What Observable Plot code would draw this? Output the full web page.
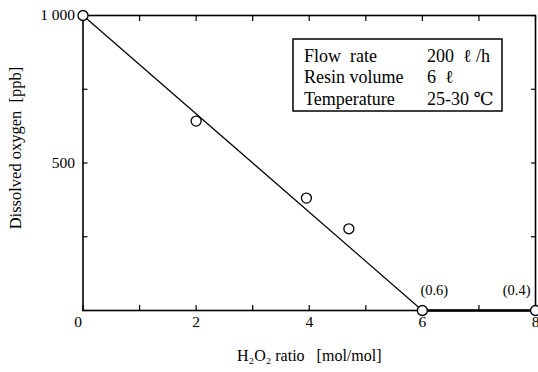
<!DOCTYPE html>
<html>
<head>
<meta charset="utf-8">
<script src="https://cdn.jsdelivr.net/npm/d3@7"></script>
<script src="https://cdn.jsdelivr.net/npm/@observablehq/plot@0.6"></script>
<style>
  html, body { margin: 0; padding: 0; background: #fff; }
</style>
</head>
<body>
<div id="wrap"></div>
<script>
// Measured data
const ratio  = [0, 2, 3.95, 4.7, 6, 8];
const oxygen = [1000, 642, 381, 277, 0, 0];
// Fitted line
const lineRatio  = [0, 6, 8];
const lineOxygen = [1000, 0, 0];
// Annotations
const noteRatio  = [6, 8];
const noteOxygen = [0, 0];
const noteText   = ["(0.6)", "(0.4)"];
// Ticks
const xTicks = [0, 1, 2, 3, 4, 5, 6, 7, 8];
const yTicks = [0, 250, 500, 750, 1000];
const xTickLabels = [2, 4, 6, 8];
const yTickLabels = [500, 1000];
// Legend text
const legendKeys = ["Flow\u00a0\u00a0rate", "Resin volume", "Temperature"];
const legendVals = ["200\u00a0\u00a0\u2113 /h", "6\u00a0\u00a0\u2113", "25-30 \u2103"];
const xTitle = "H\u2082O\u2082 ratio\u00a0\u00a0\u00a0[mol/mol]";
const yTitle = "Dissolved oxygen\u00a0\u00a0[ppb]";

const points = ratio.map((r, i) => ({r, o: oxygen[i]}));
const fit = lineRatio.map((r, i) => ({r, o: lineOxygen[i]}));
const notes = noteRatio.map((r, i) => ({r, o: noteOxygen[i], t: noteText[i]}));

const FONT = "Liberation Serif, DejaVu Serif, serif";
const T = 5;
const chart = Plot.plot({
  width: 538,
  height: 372,
  marginLeft: 82.5,
  marginRight: 3,
  marginTop: 15,
  marginBottom: 62,
  style: {fontFamily: FONT, fontSize: "15px", color: "#000", background: "#fff"},
  x: {domain: [0, 8], label: null},
  y: {domain: [0, 1000], label: null},
  marks: [
    // inward ticks on all four sides
    Plot.axisX(xTicks, {anchor: "bottom", tickSize: T, dy: -T, text: null, label: null, strokeWidth: 1.2}),
    Plot.axisX(xTicks, {anchor: "top", tickSize: T, dy: T, text: null, label: null, strokeWidth: 1.2}),
    Plot.axisY(yTicks, {anchor: "left", tickSize: T, dx: T, text: null, label: null, strokeWidth: 1.2}),
    Plot.axisY(yTicks, {anchor: "right", tickSize: T, dx: -T, text: null, label: null, strokeWidth: 1.2}),
    // tick labels
    Plot.axisX(xTickLabels, {anchor: "bottom", tickSize: 0, tickPadding: 5, label: null, fontSize: 15.5}),
    Plot.axisY(yTickLabels, {anchor: "left", tickSize: 0, tickPadding: 8, label: null, fontSize: 15.5,
      tickFormat: d => d === 1000 ? "1 000" : String(d)}),
    Plot.text([0], {x: 0, y: 0, text: () => "0", dx: -5, dy: 12, fontSize: 15.5}),
    // axis titles
    Plot.text([xTitle], {frameAnchor: "bottom", dy: 45, textAnchor: "middle", lineAnchor: "middle", fontSize: 16}),
    Plot.text([yTitle], {frameAnchor: "left", dx: -67, dy: -15, textAnchor: "middle", lineAnchor: "middle", rotate: -90, fontSize: 16.5}),
    Plot.frame({stroke: "#000", strokeWidth: 1.6}),
    // fitted line
    Plot.line(fit, {x: "r", y: "o", stroke: "#000", strokeWidth: 1.2}),
    Plot.line(fit.slice(1), {x: "r", y: "o", stroke: "#000", strokeWidth: 2.4}),
    // data points
    Plot.dot(points, {x: "r", y: "o", r: 5, fill: "#fff", stroke: "#000", strokeWidth: 1.3}),
    // annotations
    Plot.text(notes.slice(0, 1), {x: "r", y: "o", text: "t", dx: -2, dy: -20, textAnchor: "start", fontSize: 14.5}),
    Plot.text(notes.slice(1), {x: "r", y: "o", text: "t", dx: -5, dy: -20, textAnchor: "end", fontSize: 14.5})
  ]
});

// Legend box drawn inside the SVG
const svg = d3.select(chart);
const g = svg.append("g").attr("font-family", FONT).attr("font-size", 18)
  .attr("fill", "#000").attr("text-anchor", "start");
g.append("rect").attr("x", 293).attr("y", 39).attr("width", 209).attr("height", 72)
  .attr("fill", "#fff").attr("stroke", "#000").attr("stroke-width", 1.5);
legendKeys.forEach((k, i) => {
  const y = 61.5 + i * 21.5;
  g.append("text").attr("x", 304).attr("y", y).attr("text-anchor", "start").text(k);
  g.append("text").attr("x", 427).attr("y", y).attr("text-anchor", "start").text(legendVals[i]);
});

document.getElementById("wrap").appendChild(chart);
</script>
</body>
</html>
